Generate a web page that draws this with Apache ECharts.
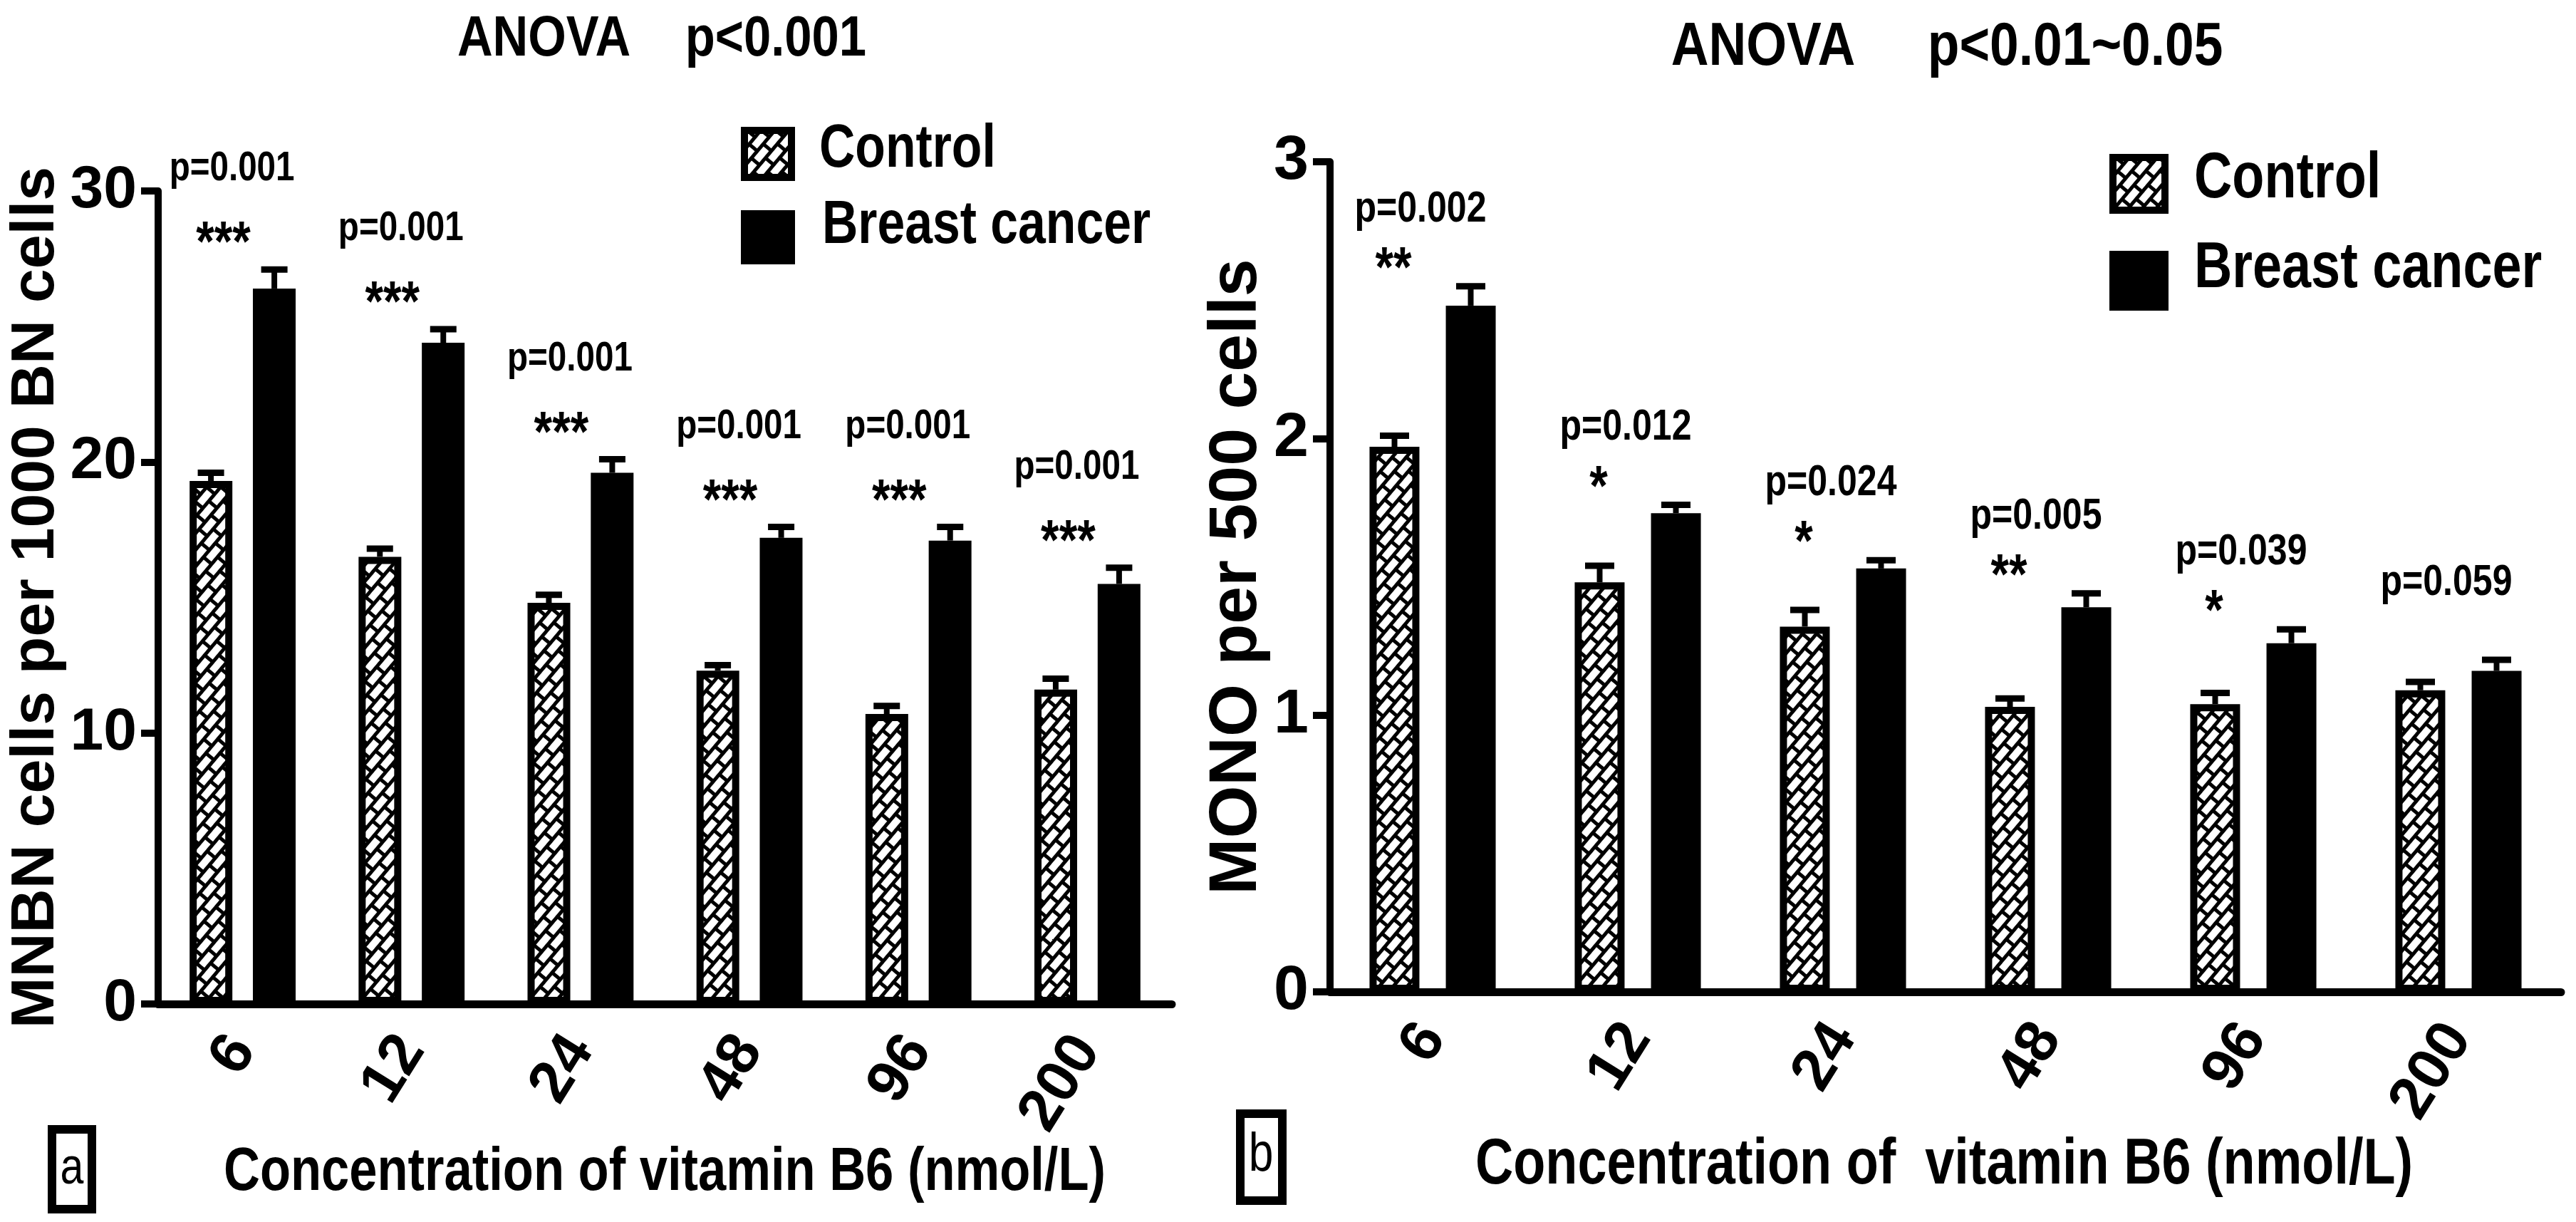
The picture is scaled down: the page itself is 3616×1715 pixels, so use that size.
<!DOCTYPE html>
<html>
<head>
<meta charset="utf-8">
<script src="https://cdn.jsdelivr.net/npm/echarts@6/dist/echarts.min.js"></script>
<style>
  html, body { margin: 0; padding: 0; background: #fff; }
  #main { width: 3616px; height: 1715px; }
</style>
</head>
<body>
<div id="main"></div>
<script>
// vitamin B6 concentrations (nmol/L)
var categories = ['6', '12', '24', '48', '96', '200'];

// panel a: MNBN cells per 1000 BN cells
var mnbnControl    = [19.3, 16.5, 14.8, 12.3, 10.7, 11.6];
var mnbnControlErr = [0.3, 0.3, 0.3, 0.2, 0.3, 0.4];
var mnbnCancer     = [26.4, 24.4, 19.6, 17.2, 17.1, 15.5];
var mnbnCancerErr  = [0.7, 0.5, 0.5, 0.4, 0.5, 0.6];
var mnbnP     = ['p=0.001', 'p=0.001', 'p=0.001', 'p=0.001', 'p=0.001', 'p=0.001'];
var mnbnStars = ['***', '***', '***', '***', '***', '***'];

// panel b: MONO per 500 cells
var monoControl    = [1.97, 1.48, 1.32, 1.03, 1.04, 1.09];
var monoControlErr = [0.04, 0.06, 0.06, 0.03, 0.04, 0.03];
var monoCancer     = [2.48, 1.73, 1.53, 1.39, 1.26, 1.16];
var monoCancerErr  = [0.07, 0.03, 0.03, 0.05, 0.05, 0.04];
var monoP     = ['p=0.002', 'p=0.012', 'p=0.024', 'p=0.005', 'p=0.039', 'p=0.059'];
var monoStars = ['**', '*', '*', '**', '*', ''];

var myChart = echarts.init(document.getElementById('main'));

var ARIAL = '"Liberation Sans", Arial, sans-serif';
var SQUEEZE = 0.82; // no narrow font installed, so condensed text is scaled by hand

// zig-zag brick hatch used by the control bars
function makeHatch() {
  var c = document.createElement('canvas');
  c.width = 52; c.height = 30;
  var g = c.getContext('2d');
  g.fillStyle = '#fff';
  g.fillRect(0, 0, 52, 30);
  g.fillStyle = '#000';
  g.fillRect(0, 0, 52, 5);
  g.fillRect(0, 15, 52, 5);
  g.fillRect(0, 0, 5, 15);
  g.fillRect(26, 0, 5, 15);
  g.fillRect(13, 15, 5, 15);
  g.fillRect(39, 15, 5, 15);
  return c;
}
var hatch = { image: makeHatch(), repeat: 'repeat', rotation: -0.87 };

function narrowText(txt, x, y, size, align, weight, squeeze) {
  return {
    type: 'text', x: x, y: y, scaleX: squeeze || SQUEEZE,
    style: { text: txt, fill: '#000', align: align, verticalAlign: 'middle',
             font: (weight || 'bold') + ' ' + size + 'px ' + ARIAL }
  };
}

function errRender(shift, capW) {
  return function (params, api) {
    var base = api.coord([api.value(0), api.value(1)]);
    var top = api.coord([api.value(0), api.value(1) + api.value(2)]);
    var x = base[0] + shift;
    return {
      type: 'group',
      children: [
        { type: 'line', shape: { x1: x, y1: base[1], x2: x, y2: top[1] }, style: { stroke: '#000', lineWidth: 8 } },
        { type: 'line', shape: { x1: x - capW / 2, y1: top[1], x2: x + capW / 2, y2: top[1] }, style: { stroke: '#000', lineWidth: 9 } }
      ]
    };
  };
}

function annotRender(pList, sList, o) {
  return function (params, api) {
    var i = params.dataIndex;
    var pt = api.coord([api.value(0), api.value(1) + api.value(2)]);
    return {
      type: 'group',
      children: [
        narrowText(pList[i], pt[0] + o.pdx, pt[1] + o.pdy, o.pfs, 'center'),
        narrowText(sList[i], pt[0] + o.sdx, pt[1] + o.sdy, o.sfs, 'center')
      ]
    };
  };
}

function triples(vals, errs) {
  return vals.map(function (v, i) { return [i, v, errs[i]]; });
}

function xAxisFor(idx) {
  return {
    type: 'category', gridIndex: idx, data: categories,
    axisLine: { lineStyle: { color: '#000', width: 11 } },
    axisTick: { alignWithLabel: true, length: 32, lineStyle: { color: '#000', width: 10 } },
    axisLabel: { rotate: 58, margin: 52, color: '#000', fontFamily: ARIAL, fontWeight: 'bold', fontSize: 84 }
  };
}

function yAxisFor(idx, max, interval, name, gap, fs, lfs) {
  return {
    type: 'value', gridIndex: idx, min: 0, max: max, interval: interval,
    name: name, nameLocation: 'middle', nameGap: gap,
    nameTextStyle: { fontFamily: ARIAL, fontWeight: 'bold', fontSize: fs, color: '#000' },
    axisLine: { show: true, lineStyle: { color: '#000', width: 10 } },
    axisTick: { show: true, length: 24, lineStyle: { color: '#000', width: 10 } },
    axisLabel: { margin: 30, color: '#000', fontFamily: ARIAL, fontWeight: 'bold', fontSize: lfs },
    splitLine: { show: false }
  };
}

function legendFor(left, top, w, h, gap) {
  return {
    orient: 'vertical', left: left, top: top, padding: 0,
    itemWidth: w, itemHeight: h, itemGap: gap, icon: 'rect',
    data: ['Control', 'Breast cancer'], selectedMode: false,
    formatter: function () { return ''; },
    itemStyle: { borderColor: '#000', borderWidth: 10 },
    textStyle: { fontSize: 10 }
  };
}

var barA = { barWidth: 60, barGap: '48%' };
var barB = { barWidth: 70, barGap: '53%' };

var option = {
  backgroundColor: '#fff',
  animation: false,
  legend: [
    legendFor(1040, 178, 66, 66, 41),
    legendFor(2961, 216, 73, 74, 52)
  ],
  grid: [
    { left: 222, top: 268, width: 1423, height: 1141 },
    { left: 1867, top: 227, width: 1728, height: 1165 }
  ],
  xAxis: [xAxisFor(0), xAxisFor(1)],
  yAxis: [
    yAxisFor(0, 30, 10, 'MNBN cells per 1000 BN cells', 104, 86, 84),
    yAxisFor(1, 3, 1, 'MONO per 500 cells', 78, 95, 88)
  ],
  graphic: [
    // titles
    narrowText('ANOVA    p<0.001', 929, 56, 80, 'center', 'bold', 0.86),
    narrowText('ANOVA     p<0.01~0.05', 2733, 68, 85, 'center', 'bold', 0.86),
    // legend labels
    narrowText('Control', 1150, 211, 85, 'left'),
    narrowText('Breast cancer', 1154, 318, 85, 'left'),
    narrowText('Control', 3080, 252, 90, 'left'),
    narrowText('Breast cancer', 3080, 378, 90, 'left'),
    // x axis titles
    narrowText('Concentration of vitamin B6 (nmol/L)', 933, 1646, 86, 'center'),
    narrowText('Concentration of  vitamin B6 (nmol/L)', 2729, 1636, 90, 'center'),
    // panel tags
    { type: 'rect', shape: { x: 73, y: 1585, width: 56, height: 112 }, style: { fill: 'none', stroke: '#000', lineWidth: 12 } },
    narrowText('a', 101, 1641, 72, 'center', 'normal'),
    { type: 'rect', shape: { x: 1741, y: 1563, width: 59, height: 122 }, style: { fill: 'none', stroke: '#000', lineWidth: 12 } },
    narrowText('b', 1770, 1622, 76, 'center', 'normal')
  ],
  series: [
    Object.assign({ name: 'Control', type: 'bar', xAxisIndex: 0, yAxisIndex: 0, data: mnbnControl,
      itemStyle: { color: hatch, borderColor: '#000', borderWidth: 10 } }, barA),
    Object.assign({ name: 'Breast cancer', type: 'bar', xAxisIndex: 0, yAxisIndex: 0, data: mnbnCancer,
      itemStyle: { color: '#000', borderColor: '#000', borderWidth: 10 } }, barA),
    { type: 'custom', xAxisIndex: 0, yAxisIndex: 0, data: triples(mnbnControl, mnbnControlErr),
      renderItem: errRender(-44.5, 37), z: 3 },
    { type: 'custom', xAxisIndex: 0, yAxisIndex: 0, data: triples(mnbnCancer, mnbnCancerErr),
      renderItem: errRender(44.5, 37), z: 3 },
    { type: 'custom', xAxisIndex: 0, yAxisIndex: 0, data: triples(mnbnCancer, mnbnCancerErr),
      renderItem: annotRender(mnbnP, mnbnStars, { pdx: -15, pdy: -141, pfs: 58, sdx: -27, sdy: -34, sfs: 80 }), z: 4 },

    Object.assign({ name: 'Control', type: 'bar', xAxisIndex: 1, yAxisIndex: 1, data: monoControl,
      itemStyle: { color: hatch, borderColor: '#000', borderWidth: 10 } }, barB),
    Object.assign({ name: 'Breast cancer', type: 'bar', xAxisIndex: 1, yAxisIndex: 1, data: monoCancer,
      itemStyle: { color: '#000', borderColor: '#000', borderWidth: 10 } }, barB),
    { type: 'custom', xAxisIndex: 1, yAxisIndex: 1, data: triples(monoControl, monoControlErr),
      renderItem: errRender(-53.5, 41), z: 3 },
    { type: 'custom', xAxisIndex: 1, yAxisIndex: 1, data: triples(monoCancer, monoCancerErr),
      renderItem: errRender(53.5, 41), z: 3 },
    { type: 'custom', xAxisIndex: 1, yAxisIndex: 1, data: triples(monoCancer, monoCancerErr),
      renderItem: annotRender(monoP, monoStars, { pdx: -17, pdy: -108, pfs: 61, sdx: -55, sdy: -22, sfs: 80 }), z: 4 }
  ]
};

myChart.setOption(option);
</script>
</body>
</html>
